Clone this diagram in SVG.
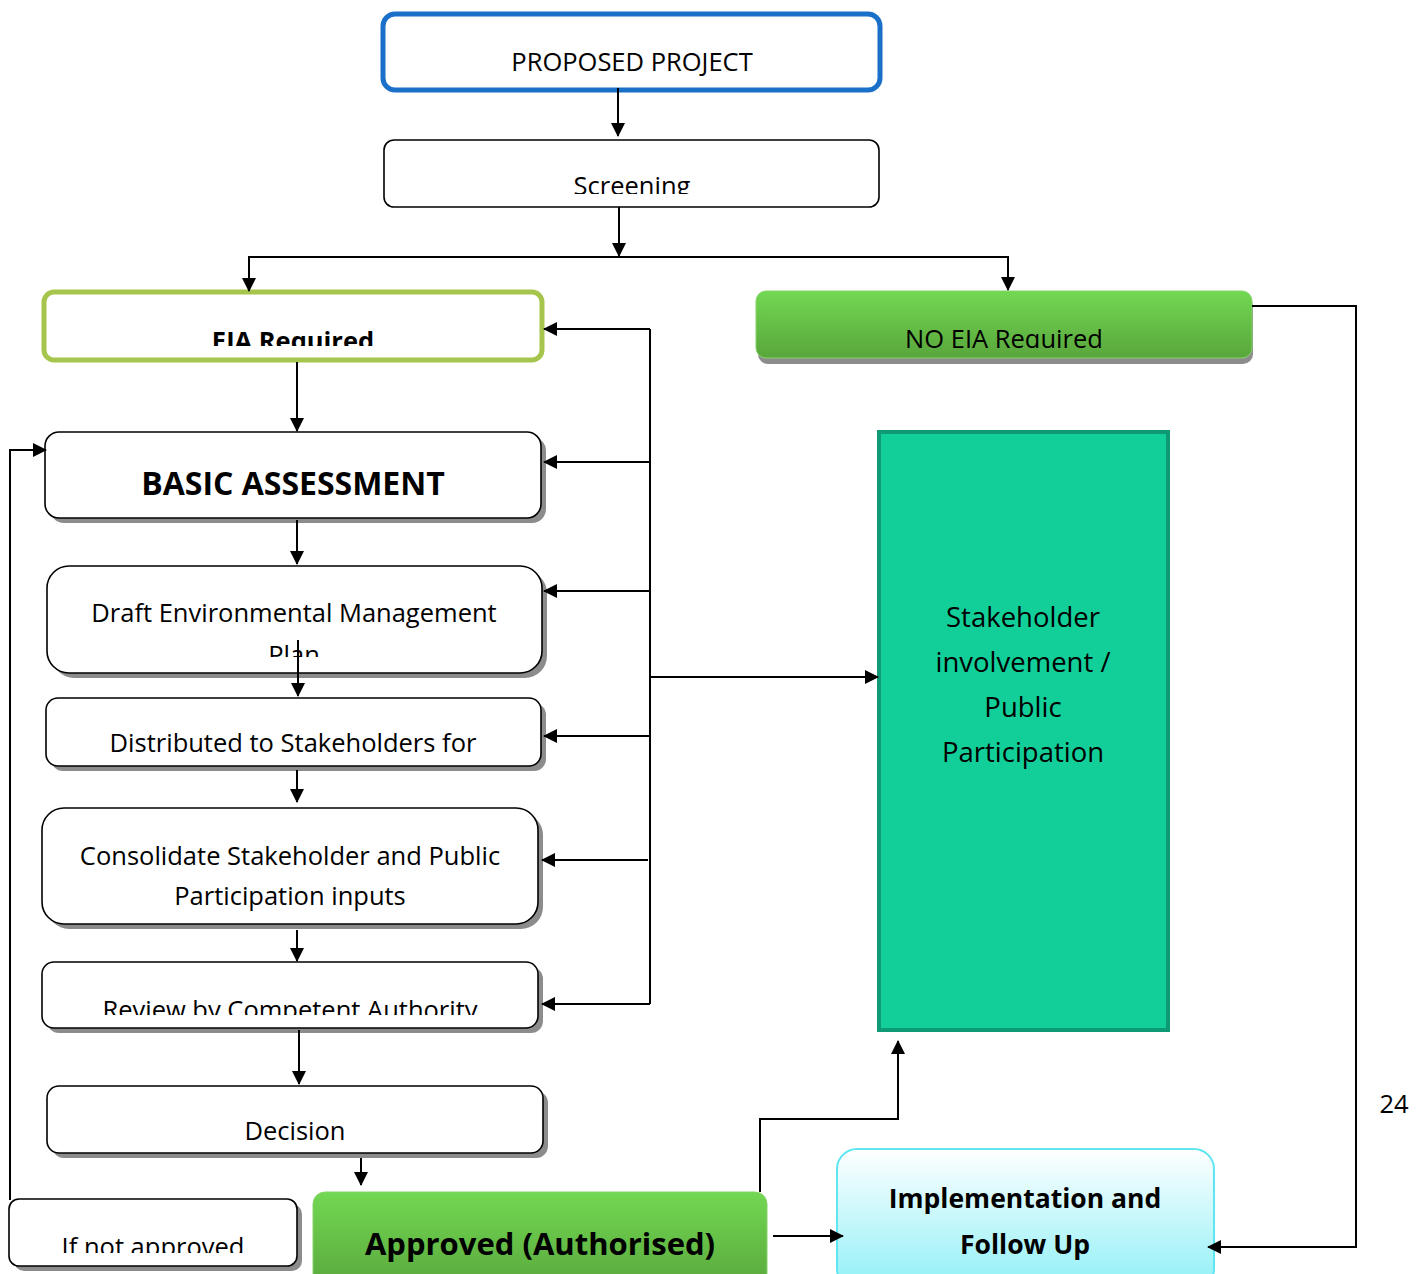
<svg xmlns="http://www.w3.org/2000/svg" width="1424" height="1274" viewBox="0 0 1424 1274">
<style>
text{font-family:"Open Sans","Noto Sans","Liberation Sans",sans-serif;fill:#000;text-anchor:middle}
.t{font-size:25.5px}
.b{font-weight:bold}
.box{fill:#fff;stroke:#000;stroke-width:1.6}
.sh{fill:#8c8c8c}
.ln{fill:none;stroke:#000;stroke-width:2}
</style>
<defs>
<marker id="ah" markerUnits="userSpaceOnUse" markerWidth="14" markerHeight="14" refX="13" refY="7" orient="auto">
<path d="M0,0 L14,7 L0,14 Z" fill="#000"/>
</marker>
<linearGradient id="gg" x1="0" y1="0" x2="0" y2="1">
<stop offset="0" stop-color="#72d852"/>
<stop offset="1" stop-color="#59a63c"/>
</linearGradient>
<linearGradient id="cg" x1="0" y1="0" x2="0" y2="1">
<stop offset="0" stop-color="#ffffff"/>
<stop offset="1" stop-color="#8ff0f6"/>
</linearGradient>
<clipPath id="c1"><rect x="384" y="140" width="495" height="54"/></clipPath>
<clipPath id="c2"><rect x="44" y="292" width="498" height="54"/></clipPath>
<clipPath id="c3"><rect x="756" y="291" width="496" height="57"/></clipPath>
<clipPath id="c4"><rect x="47" y="566" width="495" height="91"/></clipPath>
<clipPath id="c5"><rect x="42" y="962" width="496" height="53"/></clipPath>
<clipPath id="c6"><rect x="9" y="1199" width="288" height="54"/></clipPath>
</defs>

<g id="proposed">
<rect x="383" y="14" width="497" height="76" rx="12" fill="#fff" stroke="#1a70c8" stroke-width="5"/>
<text class="t" x="632" y="71">PROPOSED PROJECT</text>
</g>
<g id="screening">
<rect class="box" x="384" y="140" width="495" height="67" rx="10"/>
<text class="t" x="632" y="195" clip-path="url(#c1)">Screening</text>
</g>
<g id="eia">
<rect x="44" y="292" width="498" height="68" rx="10" fill="#fff" stroke="#a6c54c" stroke-width="5"/>
<text class="t b" x="293" y="350" clip-path="url(#c2)">EIA Required</text>
</g>
<g id="noeia">
<rect class="sh" x="758" y="296" width="495" height="68" rx="10"/>
<rect x="756" y="291" width="496" height="67" rx="10" fill="url(#gg)" stroke="#86d46a" stroke-width="1"/>
<text class="t" x="1004" y="348" clip-path="url(#c3)">NO EIA Required</text>
</g>
<g id="basic">
<rect class="sh" x="50" y="437" width="496" height="86" rx="14"/>
<rect class="box" x="45" y="432" width="496" height="86" rx="14"/>
<text class="b" x="293" y="495" font-size="32">BASIC ASSESSMENT</text>
</g>
<g id="draft">
<rect class="sh" x="52" y="571" width="495" height="107" rx="22"/>
<rect class="box" x="47" y="566" width="495" height="107" rx="22"/>
<text class="t" x="294" y="622">Draft Environmental Management</text>
<text class="t" x="294" y="664" clip-path="url(#c4)">Plan</text>
</g>
<g id="distributed">
<rect class="sh" x="51" y="703" width="495" height="68" rx="12"/>
<rect class="box" x="46" y="698" width="495" height="68" rx="12"/>
<text class="t" x="293" y="752">Distributed to Stakeholders for</text>
</g>
<g id="consolidate">
<rect class="sh" x="47" y="813" width="496" height="116" rx="22"/>
<rect class="box" x="42" y="808" width="496" height="116" rx="22"/>
<text class="t" x="290" y="865">Consolidate Stakeholder and Public</text>
<text class="t" x="290" y="905">Participation inputs</text>
</g>
<g id="review">
<rect class="sh" x="47" y="967" width="496" height="66" rx="12"/>
<rect class="box" x="42" y="962" width="496" height="66" rx="12"/>
<text class="t" x="290" y="1019" clip-path="url(#c5)">Review by Competent Authority</text>
</g>
<g id="decision">
<rect class="sh" x="52" y="1091" width="496" height="67" rx="12"/>
<rect class="box" x="47" y="1086" width="496" height="67" rx="12"/>
<text class="t" x="295" y="1140">Decision</text>
</g>
<g id="notapproved">
<rect class="sh" x="14" y="1204" width="288" height="67" rx="10"/>
<rect class="box" x="9" y="1199" width="288" height="67" rx="10"/>
<text class="t" x="153" y="1256" clip-path="url(#c6)">If not approved</text>
</g>
<g id="approved">
<rect x="313" y="1192" width="454" height="100" rx="12" fill="url(#gg)" stroke="#86d46a" stroke-width="1"/>
<text class="b" x="540" y="1255" font-size="31">Approved (Authorised)</text>
</g>
<g id="stakeholder">
<rect x="879" y="432" width="289" height="598" fill="#12cf9a" stroke="#0e9a74" stroke-width="4"/>
<text x="1023" y="627" font-size="27.5">Stakeholder</text>
<text x="1023" y="672" font-size="27.5">involvement /</text>
<text x="1023" y="717" font-size="27.5">Public</text>
<text x="1023" y="762" font-size="27.5">Participation</text>
</g>
<g id="implementation">
<rect x="837" y="1149" width="377" height="140" rx="20" fill="url(#cg)" stroke="#5fe6f0" stroke-width="2"/>
<text class="b" x="1025" y="1208" font-size="26.5">Implementation and</text>
<text class="b" x="1025" y="1254" font-size="26.5">Follow Up</text>
</g>
<g id="pagenum">
<text class="t" x="1394" y="1113">24</text>
</g>

<g id="connectors">
<line class="ln" x1="618" y1="88" x2="618" y2="136" marker-end="url(#ah)"/>
<line class="ln" x1="619" y1="207" x2="619" y2="256" marker-end="url(#ah)"/>
<polyline class="ln" points="249,290 249,257 1008,257 1008,290"/>
<line class="ln" x1="249" y1="257" x2="249" y2="291" marker-end="url(#ah)"/>
<line class="ln" x1="1008" y1="257" x2="1008" y2="290" marker-end="url(#ah)"/>
<line class="ln" x1="297" y1="362" x2="297" y2="431" marker-end="url(#ah)"/>
<line class="ln" x1="297" y1="520" x2="297" y2="564" marker-end="url(#ah)"/>
<line class="ln" x1="298" y1="640" x2="298" y2="696" marker-end="url(#ah)"/>
<line class="ln" x1="297" y1="770" x2="297" y2="802" marker-end="url(#ah)"/>
<line class="ln" x1="297" y1="930" x2="297" y2="961" marker-end="url(#ah)"/>
<line class="ln" x1="299" y1="1030" x2="299" y2="1084" marker-end="url(#ah)"/>
<line class="ln" x1="361" y1="1158" x2="361" y2="1185" marker-end="url(#ah)"/>
<line class="ln" x1="650" y1="329" x2="650" y2="1004"/>
<line class="ln" x1="650" y1="329" x2="544" y2="329" marker-end="url(#ah)"/>
<line class="ln" x1="650" y1="462" x2="544" y2="462" marker-end="url(#ah)"/>
<line class="ln" x1="650" y1="591" x2="544" y2="591" marker-end="url(#ah)"/>
<line class="ln" x1="650" y1="736" x2="544" y2="736" marker-end="url(#ah)"/>
<line class="ln" x1="648" y1="860" x2="542" y2="860" marker-end="url(#ah)"/>
<line class="ln" x1="650" y1="1004" x2="542" y2="1004" marker-end="url(#ah)"/>
<line class="ln" x1="650" y1="677" x2="878" y2="677" marker-end="url(#ah)"/>
<polyline class="ln" points="10,1200 10,450 46,450" marker-end="url(#ah)"/>
<polyline class="ln" points="760,1192 760,1119 898,1119 898,1041" marker-end="url(#ah)"/>
<line class="ln" x1="773" y1="1236" x2="843" y2="1236" marker-end="url(#ah)"/>
<polyline class="ln" points="1252,306 1356,306 1356,1247 1208,1247" marker-end="url(#ah)"/>
</g>
</svg>
